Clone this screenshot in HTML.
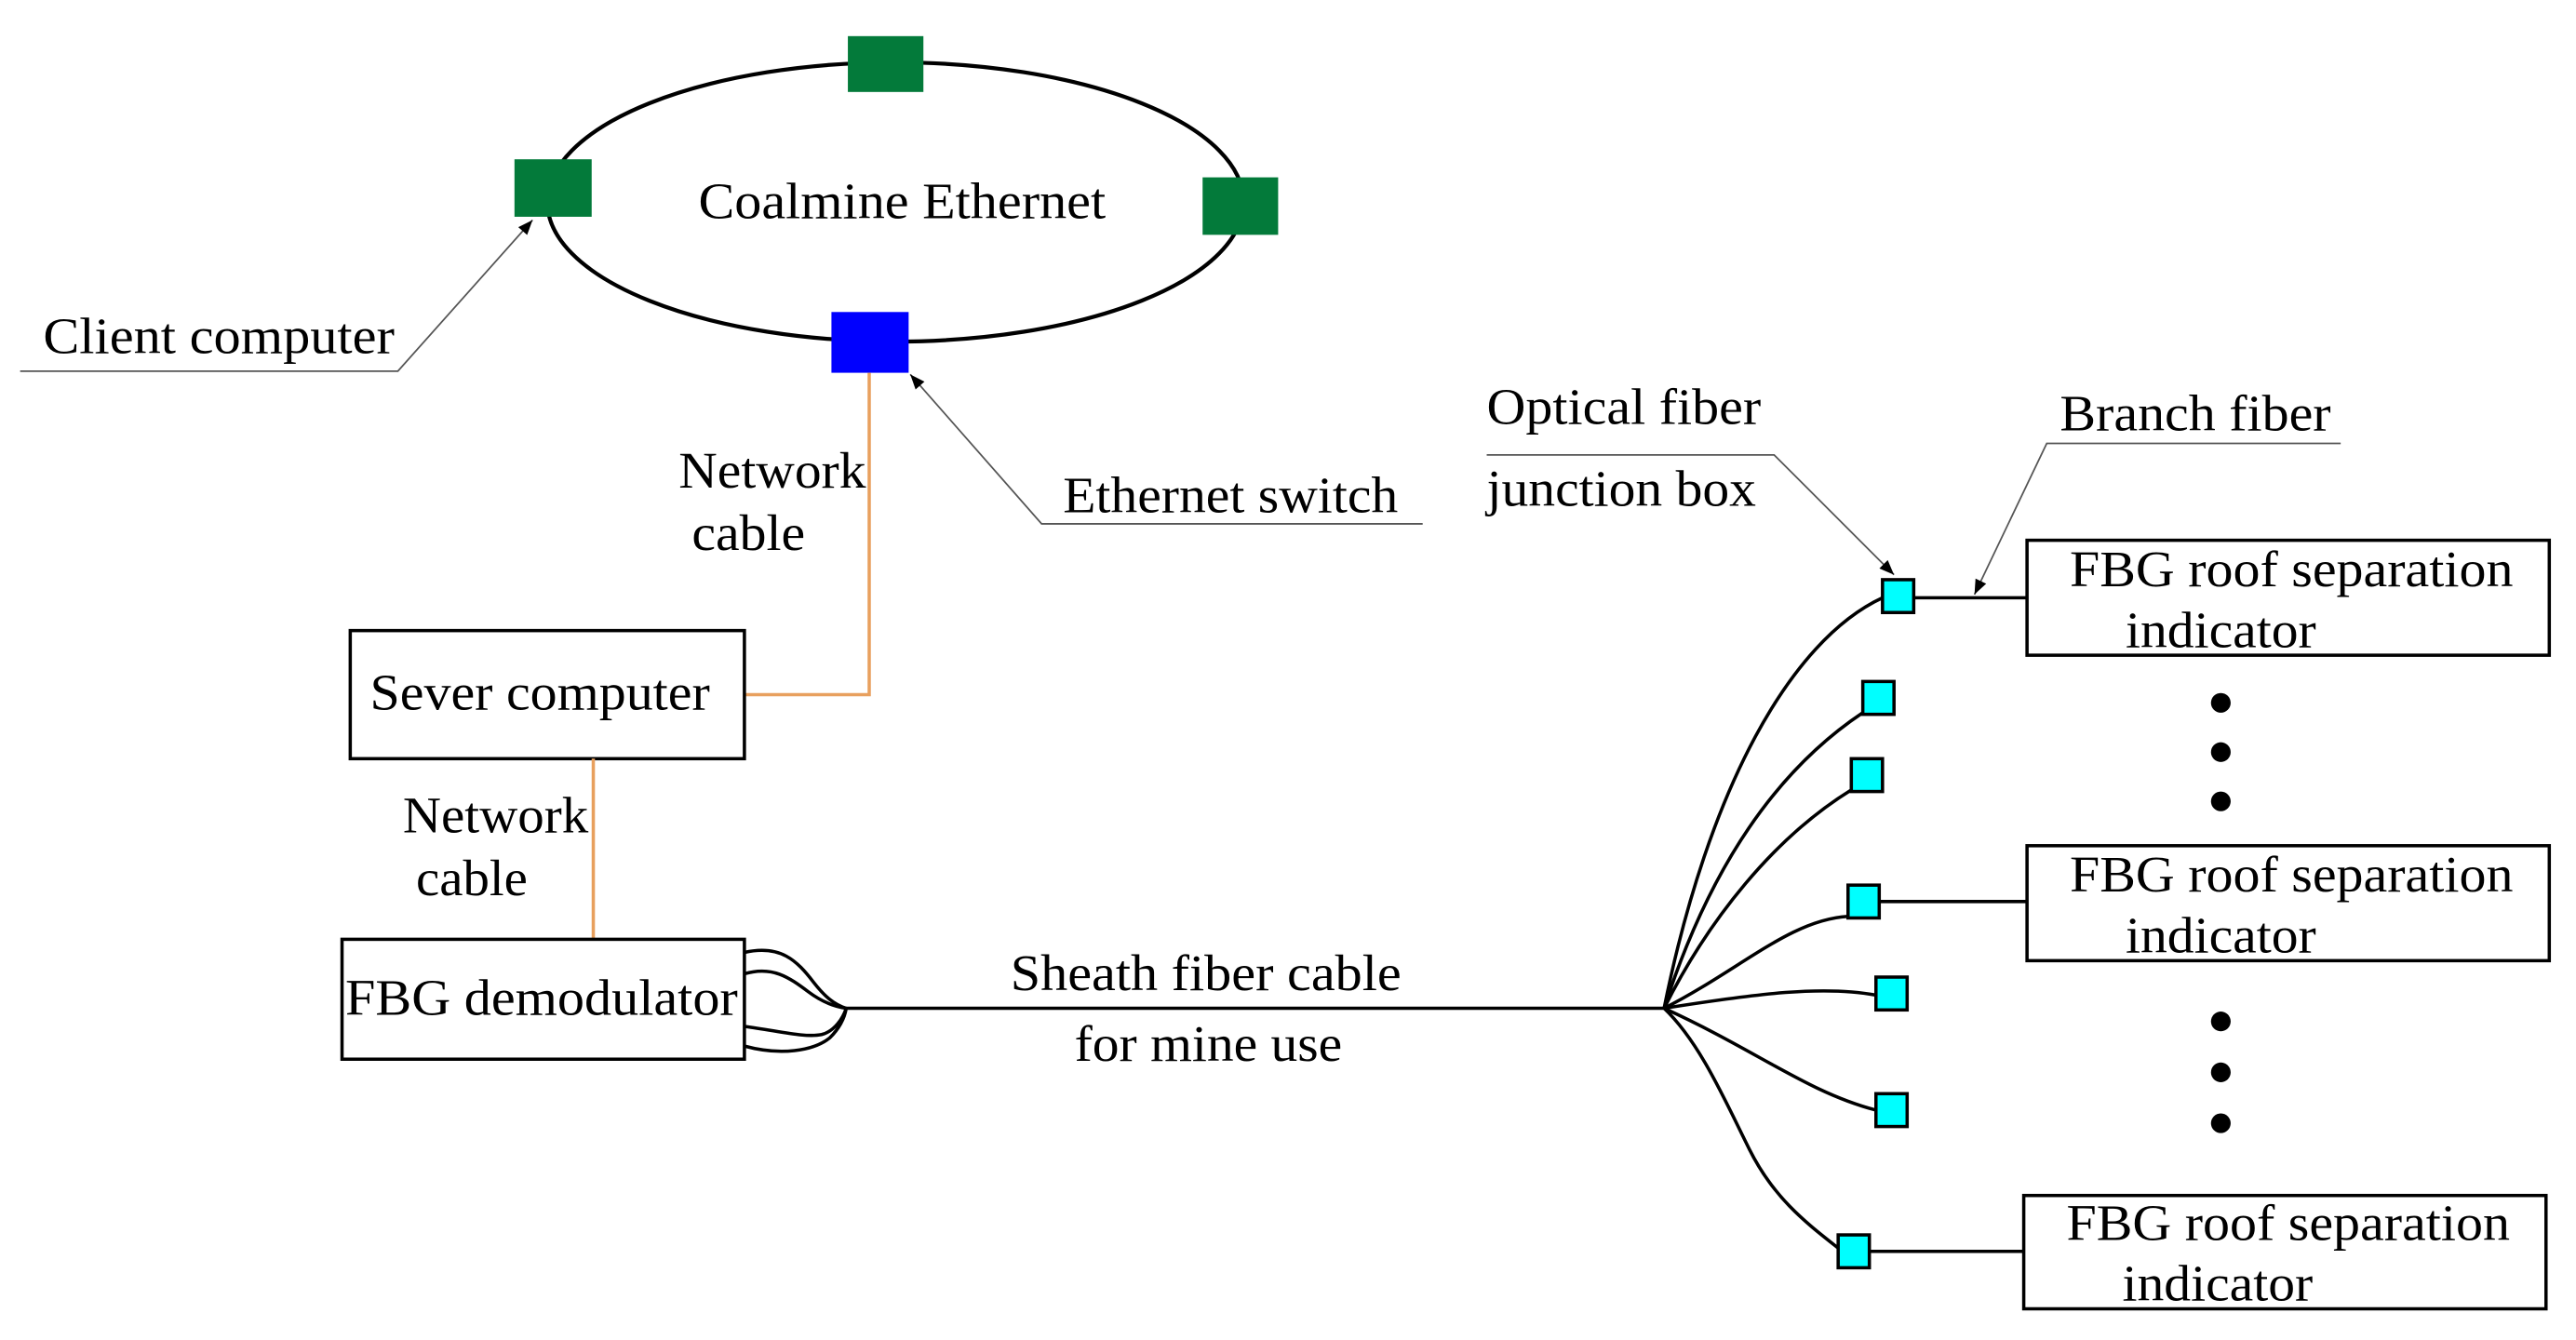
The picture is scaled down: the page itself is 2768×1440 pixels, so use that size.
<!DOCTYPE html>
<html><head><meta charset="utf-8"><style>
html,body{margin:0;padding:0;background:#fff;}
svg{display:block;}
text{font-family:"Liberation Serif",serif;fill:#000;font-size:31px;}
</style></head><body>
<svg width="2768" height="1440" viewBox="0 0 1568 816" xmlns="http://www.w3.org/2000/svg">
<defs>
<marker id="ar2" viewBox="0 0 10 10" refX="10" refY="5" markerWidth="18" markerHeight="9" markerUnits="userSpaceOnUse" orient="auto"><path d="M0,1 L10,5 L0,9 z" fill="#000"/></marker>
</defs>
<ellipse cx="545" cy="123" rx="212" ry="85" fill="none" stroke="#000" stroke-width="2.4"/>
<rect x="516" y="22" width="46" height="34" fill="#037a3a"/>
<rect x="313" y="97" width="47" height="35" fill="#037a3a"/>
<rect x="732" y="108" width="46" height="35" fill="#037a3a"/>
<rect x="506" y="190" width="47" height="37" fill="#0000ff"/>
<text x="425" y="133" textLength="248" lengthAdjust="spacingAndGlyphs">Coalmine Ethernet</text>

<text x="26" y="215" textLength="214" lengthAdjust="spacingAndGlyphs">Client computer</text>
<polyline points="12,226 242,226 324,134" fill="none" stroke="#555" stroke-width="1" marker-end="url(#ar2)"/>
<text x="647" y="312" textLength="204" lengthAdjust="spacingAndGlyphs">Ethernet switch</text>
<polyline points="866,319 634,319 554,228" fill="none" stroke="#555" stroke-width="1" marker-end="url(#ar2)"/>

<text x="413" y="297" textLength="114" lengthAdjust="spacingAndGlyphs">Network</text>
<text x="421" y="335" textLength="69" lengthAdjust="spacingAndGlyphs">cable</text>
<polyline points="529,227 529,423 453,423" fill="none" stroke="#e8a05e" stroke-width="2"/>
<rect x="213" y="384" width="240" height="78" fill="none" stroke="#000" stroke-width="2"/>
<text x="225" y="432" textLength="207" lengthAdjust="spacingAndGlyphs">Sever computer</text>
<line x1="361" y1="462" x2="361" y2="572" stroke="#e8a05e" stroke-width="2"/>
<text x="245" y="507" textLength="113" lengthAdjust="spacingAndGlyphs">Network</text>
<text x="253" y="545" textLength="68" lengthAdjust="spacingAndGlyphs">cable</text>
<rect x="208" y="572" width="245" height="73" fill="none" stroke="#000" stroke-width="2"/>
<text x="210" y="618" textLength="239" lengthAdjust="spacingAndGlyphs">FBG demodulator</text>

<g fill="none" stroke="#000" stroke-width="2">
<path d="M453,580 C475,575 485,585 495,598 C502,607 508,612 515,614"/>
<path d="M453,593 C470,588 480,595 492,604 C500,610 508,613 515,614"/>
<path d="M453,625 C475,628 490,632 500,630 C508,628 513,620 515,614"/>
<path d="M453,637 C475,643 495,640 505,632 C511,626 514,620 515,614"/>
<line x1="515" y1="614" x2="1013" y2="614"/>
<path d="M1013,614 C1040,480 1090,390 1146,364"/>
<path d="M1013,614 C1040,530 1080,470 1134,434"/>
<path d="M1013,614 C1040,560 1080,510 1127,481"/>
<path d="M1013,614 C1060,590 1090,560 1125,558"/>
<path d="M1013,614 C1070,605 1110,600 1142,606"/>
<path d="M1013,614 C1070,640 1100,665 1142,676"/>
<path d="M1013,614 C1035,635 1050,670 1065,700 C1080,730 1100,745 1119,760"/>
<line x1="1165" y1="364" x2="1234" y2="364"/>
<line x1="1144" y1="549" x2="1234" y2="549"/>
<line x1="1138" y1="762" x2="1232" y2="762"/>
</g>
<text x="615" y="603" textLength="238" lengthAdjust="spacingAndGlyphs">Sheath fiber cable</text>
<text x="654" y="646" textLength="163" lengthAdjust="spacingAndGlyphs">for mine use</text>

<g fill="#00ffff" stroke="#000" stroke-width="2">
<rect x="1146" y="353" width="19" height="20"/>
<rect x="1134" y="415" width="19" height="20"/>
<rect x="1127" y="462" width="19" height="20"/>
<rect x="1125" y="539" width="19" height="20"/>
<rect x="1142" y="595" width="19" height="20"/>
<rect x="1142" y="666" width="19" height="20"/>
<rect x="1119" y="752" width="19" height="20"/>
</g>

<g fill="none" stroke="#000" stroke-width="2">
<rect x="1234" y="329" width="318" height="70"/>
<rect x="1234" y="515" width="318" height="70"/>
<rect x="1232" y="728" width="318" height="69"/>
</g>
<text x="1260" y="357" textLength="270" lengthAdjust="spacingAndGlyphs">FBG roof separation</text>
<text x="1294" y="394" textLength="116" lengthAdjust="spacingAndGlyphs">indicator</text>
<text x="1260" y="543" textLength="270" lengthAdjust="spacingAndGlyphs">FBG roof separation</text>
<text x="1294" y="580" textLength="116" lengthAdjust="spacingAndGlyphs">indicator</text>
<text x="1258" y="755" textLength="270" lengthAdjust="spacingAndGlyphs">FBG roof separation</text>
<text x="1292" y="792" textLength="116" lengthAdjust="spacingAndGlyphs">indicator</text>
<g fill="#000">
<circle cx="1352" cy="428" r="6"/><circle cx="1352" cy="458" r="6"/><circle cx="1352" cy="488" r="6"/>
<circle cx="1352" cy="622" r="6"/><circle cx="1352" cy="653" r="6"/><circle cx="1352" cy="684" r="6"/>
</g>

<text x="905" y="258" textLength="167" lengthAdjust="spacingAndGlyphs">Optical fiber</text>
<text x="905" y="308" textLength="164" lengthAdjust="spacingAndGlyphs">junction box</text>
<polyline points="905,277 1080,277 1153,350" fill="none" stroke="#555" stroke-width="1" marker-end="url(#ar2)"/>
<text x="1254" y="262" textLength="165" lengthAdjust="spacingAndGlyphs">Branch fiber</text>
<polyline points="1425,270 1246,270 1202,362" fill="none" stroke="#555" stroke-width="1" marker-end="url(#ar2)"/>
</svg>
</body></html>
